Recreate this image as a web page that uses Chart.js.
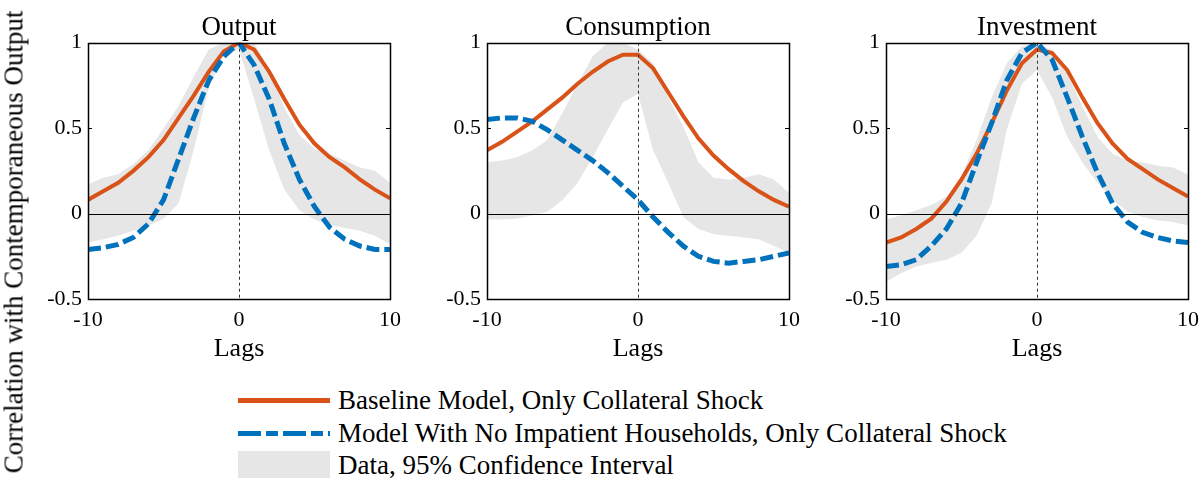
<!DOCTYPE html>
<html>
<head>
<meta charset="utf-8">
<script src="https://cdn.jsdelivr.net/npm/chart.js@4.4.0/dist/chart.umd.min.js"></script>
<style>
  body { margin: 0; width: 1201px; height: 478px; overflow: hidden; background: #fff; font-family: 'Liberation Serif', serif; position: relative; }
  canvas { position: absolute; top: 0; }
  .ylab { position: absolute; left: 14px; top: 242px; transform: translate(-50%, -50%) rotate(-90deg); font-size: 27px; white-space: nowrap; color: #000; }
  .leg-line { position: absolute; left: 238px; width: 92px; height: 5px; }
  .leg-text { position: absolute; left: 338px; font-size: 27px; line-height: 32px; color: #000; white-space: nowrap; }
</style>
</head>
<body>
<canvas id="outputChart" width="462" height="370" style="left:8px"></canvas>
<canvas id="consChart" width="462" height="370" style="left:407px"></canvas>
<canvas id="invChart" width="462" height="370" style="left:806px"></canvas>
<div class="ylab">Correlation with Contemporaneous Output</div>

<div class="leg-line" style="top:398px; background:#D95319;"></div>
<div class="leg-text" style="top:384px;">Baseline Model, Only Collateral Shock</div>
<div class="leg-line" style="top:431px; background:repeating-linear-gradient(to right,#0072BD 0 23px,transparent 23px 28px,#0072BD 28px 40px,transparent 40px 45px);"></div>
<div class="leg-text" style="top:417px;">Model With No Impatient Households, Only Collateral Shock</div>
<div class="leg-line" style="top:451px; height:28px; background:#e6e6e6;"></div>
<div class="leg-text" style="top:449px;">Data, 95% Confidence Interval</div>

<script>
// lags -10..10
const lags = [-10,-9,-8,-7,-6,-5,-4,-3,-2,-1,0,1,2,3,4,5,6,7,8,9,10];

// Output panel
const outputBaseline = [0.08,0.13,0.18,0.25,0.33,0.43,0.56,0.69,0.83,0.95,1.0,0.96,0.83,0.67,0.52,0.41,0.33,0.27,0.20,0.14,0.09];
const outputNoImpatient = [-0.21,-0.20,-0.18,-0.14,-0.06,0.08,0.32,0.56,0.78,0.92,1.0,0.87,0.67,0.41,0.20,0.04,-0.08,-0.15,-0.19,-0.21,-0.21];
const outputUpper = [0.17,0.21,0.23,0.29,0.37,0.50,0.63,0.80,0.96,1.0,1.0,1.0,0.84,0.62,0.46,0.38,0.35,0.31,0.27,0.25,0.18];
const outputLower = [-0.17,-0.15,-0.13,-0.10,-0.07,-0.03,0.06,0.37,0.74,0.93,0.96,0.67,0.37,0.14,0.02,-0.035,-0.065,-0.085,-0.10,-0.13,-0.18];

// Consumption panel
const consBaseline = [0.37,0.42,0.48,0.54,0.61,0.68,0.76,0.83,0.89,0.93,0.93,0.85,0.71,0.57,0.44,0.34,0.26,0.19,0.13,0.08,0.04];
const consNoImpatient = [0.55,0.56,0.56,0.54,0.49,0.43,0.37,0.31,0.24,0.16,0.08,-0.02,-0.11,-0.19,-0.25,-0.28,-0.29,-0.28,-0.27,-0.25,-0.23];
const consUpper = [0.30,0.31,0.33,0.37,0.43,0.59,0.76,0.92,1.0,1.0,0.96,0.88,0.68,0.51,0.30,0.21,0.20,0.21,0.23,0.20,0.12];
const consLower = [-0.035,-0.035,-0.03,-0.01,0.01,0.08,0.18,0.33,0.49,0.65,0.70,0.37,0.18,-0.02,-0.09,-0.12,-0.13,-0.14,-0.15,-0.19,-0.23];

// Investment panel
const invBaseline = [-0.17,-0.14,-0.09,-0.03,0.07,0.20,0.35,0.53,0.72,0.88,0.96,0.94,0.84,0.68,0.53,0.41,0.32,0.26,0.20,0.15,0.10];
const invNoImpatient = [-0.31,-0.30,-0.27,-0.19,-0.09,0.06,0.30,0.53,0.78,0.94,1.0,0.90,0.68,0.45,0.24,0.06,-0.05,-0.11,-0.14,-0.16,-0.17];
const invUpper = [-0.035,-0.01,0.02,0.05,0.10,0.22,0.43,0.68,0.88,0.98,0.99,0.96,0.82,0.63,0.45,0.35,0.31,0.30,0.28,0.27,0.23];
const invLower = [-0.40,-0.35,-0.31,-0.29,-0.27,-0.23,-0.13,0.06,0.49,0.76,0.84,0.68,0.45,0.30,0.18,0.08,0.01,-0.02,-0.04,-0.05,-0.07];

const yTicks = [-0.5, 0, 0.5, 1];
const xTicks = [-10, 0, 10];

const ORANGE = '#D95319';
const BLUE = '#0072BD';
const BAND = '#e6e6e6';

const pts = vals => lags.map((x, i) => ({ x: x, y: vals[i] }));

// zero line, dashed lag-0 line, box and inward ticks (MATLAB style)
const framePlugin = {
  id: 'frame',
  afterDatasetsDraw(chart) {
    const { ctx, chartArea: a, scales: { x, y } } = chart;
    ctx.save();
    ctx.strokeStyle = '#000';
    ctx.lineWidth = 1;
    const y0 = Math.round(y.getPixelForValue(0)) + 0.5;
    ctx.beginPath(); ctx.moveTo(a.left, y0); ctx.lineTo(a.right, y0); ctx.stroke();
    const x0 = Math.round(x.getPixelForValue(0)) + 0.5;
    ctx.setLineDash([3, 3]);
    ctx.strokeStyle = '#333';
    ctx.beginPath(); ctx.moveTo(x0, a.top); ctx.lineTo(x0, a.bottom); ctx.stroke();
    ctx.restore();
  },
  afterDraw(chart) {
    const { ctx, chartArea: a, scales: { y } } = chart;
    ctx.save();
    ctx.strokeStyle = '#000';
    ctx.lineWidth = 1.5;
    ctx.strokeRect(Math.round(a.left) + 0.5, Math.round(a.top) + 0.5, Math.round(a.right - a.left), Math.round(a.bottom - a.top));
    ctx.lineWidth = 1;
    yTicks.forEach(v => {
      const py = Math.round(y.getPixelForValue(v)) + 0.5;
      ctx.beginPath();
      ctx.moveTo(a.left, py); ctx.lineTo(a.left + 4, py);
      ctx.moveTo(a.right - 4, py); ctx.lineTo(a.right, py);
      ctx.stroke();
    });
    ctx.restore();
  }
};

function makePanel(id, title, baseline, noImp, upper, lower) {
  return new Chart(document.getElementById(id).getContext('2d'), {
    type: 'line',
    data: {
      datasets: [
        { label: 'Baseline Model, Only Collateral Shock', data: pts(baseline), borderColor: ORANGE, borderWidth: 4, pointRadius: 0, tension: 0, order: 1 },
        { label: 'Model With No Impatient Households, Only Collateral Shock', data: pts(noImp), borderColor: BLUE, borderWidth: 5, borderDash: [13, 5], pointRadius: 0, tension: 0, order: 0 },
        { label: 'Data, 95% Confidence Interval', data: pts(upper), borderColor: 'transparent', borderWidth: 0, backgroundColor: BAND, fill: '+1', pointRadius: 0, tension: 0, order: 2 },
        { label: 'lower', data: pts(lower), borderColor: 'transparent', borderWidth: 0, pointRadius: 0, tension: 0, fill: false, order: 3 }
      ]
    },
    options: {
      responsive: false,
      animation: false,
      layout: { padding: 0 },
      plugins: {
        legend: { display: false },
        tooltip: { enabled: false },
        title: { display: true, text: title, color: '#000', font: { family: 'Liberation Serif', size: 27, weight: 'normal', lineHeight: 1.1 }, padding: { top: 13, bottom: 0 } }
      },
      scales: {
        x: {
          type: 'linear', min: -10, max: 10,
          afterBuildTicks: s => { s.ticks = xTicks.map(v => ({ value: v })); },
          afterFit: s => { s.height = 71; },
          grid: { display: false, drawTicks: false },
          border: { display: false },
          ticks: { color: '#000', padding: 8, maxRotation: 0, callback: v => String(v), font: { family: 'Liberation Serif', size: 22 } },
          title: { display: true, text: 'Lags', color: '#000', font: { family: 'Liberation Serif', size: 26 }, padding: { top: 0, bottom: 5 } }
        },
        y: {
          min: -0.5, max: 1,
          afterBuildTicks: s => { s.ticks = yTicks.map(v => ({ value: v })); },
          afterFit: s => { s.width = 80; },
          grid: { display: false, drawTicks: false },
          border: { display: false },
          ticks: { color: '#000', padding: 6, callback: v => String(v), font: { family: 'Liberation Serif', size: 22 } }
        },
        // empty right axis, same width as the left one, so the title sits over the plot centre
        yRight: {
          position: 'right', min: -0.5, max: 1,
          afterFit: s => { s.width = 80; },
          grid: { display: false, drawTicks: false },
          border: { display: false },
          ticks: { display: false }
        }
      }
    },
    plugins: [framePlugin]
  });
}

const outputChart = makePanel('outputChart', 'Output', outputBaseline, outputNoImpatient, outputUpper, outputLower);
const consChart = makePanel('consChart', 'Consumption', consBaseline, consNoImpatient, consUpper, consLower);
const invChart = makePanel('invChart', 'Investment', invBaseline, invNoImpatient, invUpper, invLower);
</script>
</body>
</html>
